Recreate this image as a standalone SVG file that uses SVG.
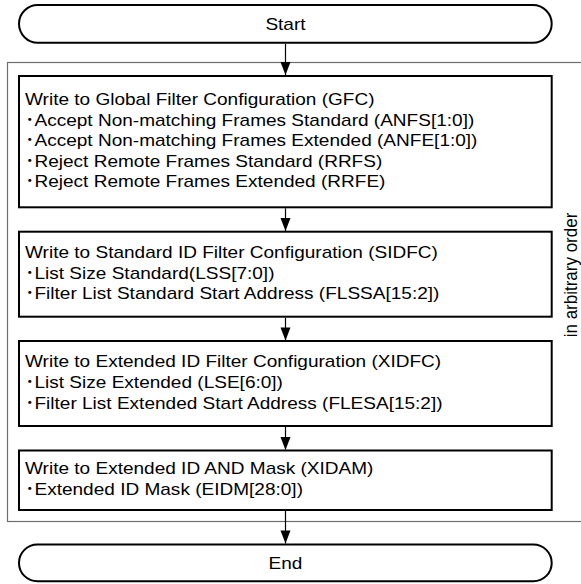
<svg xmlns="http://www.w3.org/2000/svg" width="581" height="584" viewBox="0 0 581 584">
<style>
.t{font-family:"Liberation Sans","Noto Sans CJK JP",Arial,sans-serif;font-size:17px;fill:#000}
.box{fill:#fff;stroke:#000;stroke-width:2}
.frame{fill:none;stroke:#6e6e6e;stroke-width:1.2}
.ln{stroke:#000;stroke-width:1.2;fill:none}
.ah{fill:#000}
</style>
<rect class="frame" x="7.5" y="62.5" width="600" height="459"/>
<g id="connectors">
<path class="ln" d="M285.5,43.7 L285.5,75"/>
<path class="ah" d="M280.5,62 L290.5,62 L285.5,75 Z"/>
<path class="ln" d="M285.5,208.3 L285.5,231"/>
<path class="ah" d="M280.5,218 L290.5,218 L285.5,231 Z"/>
<path class="ln" d="M285.5,317.7 L285.5,340"/>
<path class="ah" d="M280.5,327.5 L290.5,327.5 L285.5,340.5 Z"/>
<path class="ln" d="M285.5,427 L285.5,449.5"/>
<path class="ah" d="M280.5,437 L290.5,437 L285.5,450 Z"/>
<path class="ln" d="M285.5,511 L285.5,543.5"/>
<path class="ah" d="M280.5,530.5 L290.5,530.5 L285.5,543.5 Z"/>
</g>
<g id="start">
<rect class="box" x="19" y="5" width="532.7" height="37.7" rx="18.85"/>
<text class="t" transform="scale(1.12,1)" x="254.9" y="30" text-anchor="middle">Start</text>
</g>
<g id="gfc">
<rect class="box" x="19" y="76" width="532.7" height="131.3"/>
<g class="t" transform="scale(1.12,1)">
<text x="22.3" y="105.2">Write to Global Filter Configuration (GFC)</text>
<text x="22.3" y="125.7">･Accept Non-matching Frames Standard (ANFS[1:0])</text>
<text x="22.3" y="146.2">･Accept Non-matching Frames Extended (ANFE[1:0])</text>
<text x="22.3" y="166.7">･Reject Remote Frames Standard (RRFS)</text>
<text x="22.3" y="187.2">･Reject Remote Frames Extended (RRFE)</text>
</g>
</g>
<g id="sidfc">
<rect class="box" x="19" y="231.7" width="532.7" height="85"/>
<g class="t" transform="scale(1.12,1)">
<text x="22.3" y="258.2">Write to Standard ID Filter Configuration (SIDFC)</text>
<text x="22.3" y="278.7">･List Size Standard(LSS[7:0])</text>
<text x="22.3" y="299.2">･Filter List Standard Start Address (FLSSA[15:2])</text>
</g>
</g>
<g id="xidfc">
<rect class="box" x="19" y="341" width="532.7" height="85"/>
<g class="t" transform="scale(1.12,1)">
<text x="22.3" y="367.5">Write to Extended ID Filter Configuration (XIDFC)</text>
<text x="22.3" y="388">･List Size Extended (LSE[6:0])</text>
<text x="22.3" y="408.5">･Filter List Extended Start Address (FLESA[15:2])</text>
</g>
</g>
<g id="xidam">
<rect class="box" x="19" y="450.5" width="532.7" height="59.5"/>
<g class="t" transform="scale(1.12,1)">
<text x="22.3" y="474.5">Write to Extended ID AND Mask (XIDAM)</text>
<text x="22.3" y="495">･Extended ID Mask (EIDM[28:0])</text>
</g>
</g>
<g id="end">
<rect class="box" x="19" y="544.5" width="532.7" height="36.8" rx="18.4"/>
<text class="t" transform="scale(1.12,1)" x="254.9" y="569" text-anchor="middle">End</text>
</g>
<g id="order-label">
<text class="t" transform="translate(576.5,275) scale(1.12,1) rotate(-90)" x="0" y="0" text-anchor="middle">in arbitrary order</text>
</g>
</svg>
